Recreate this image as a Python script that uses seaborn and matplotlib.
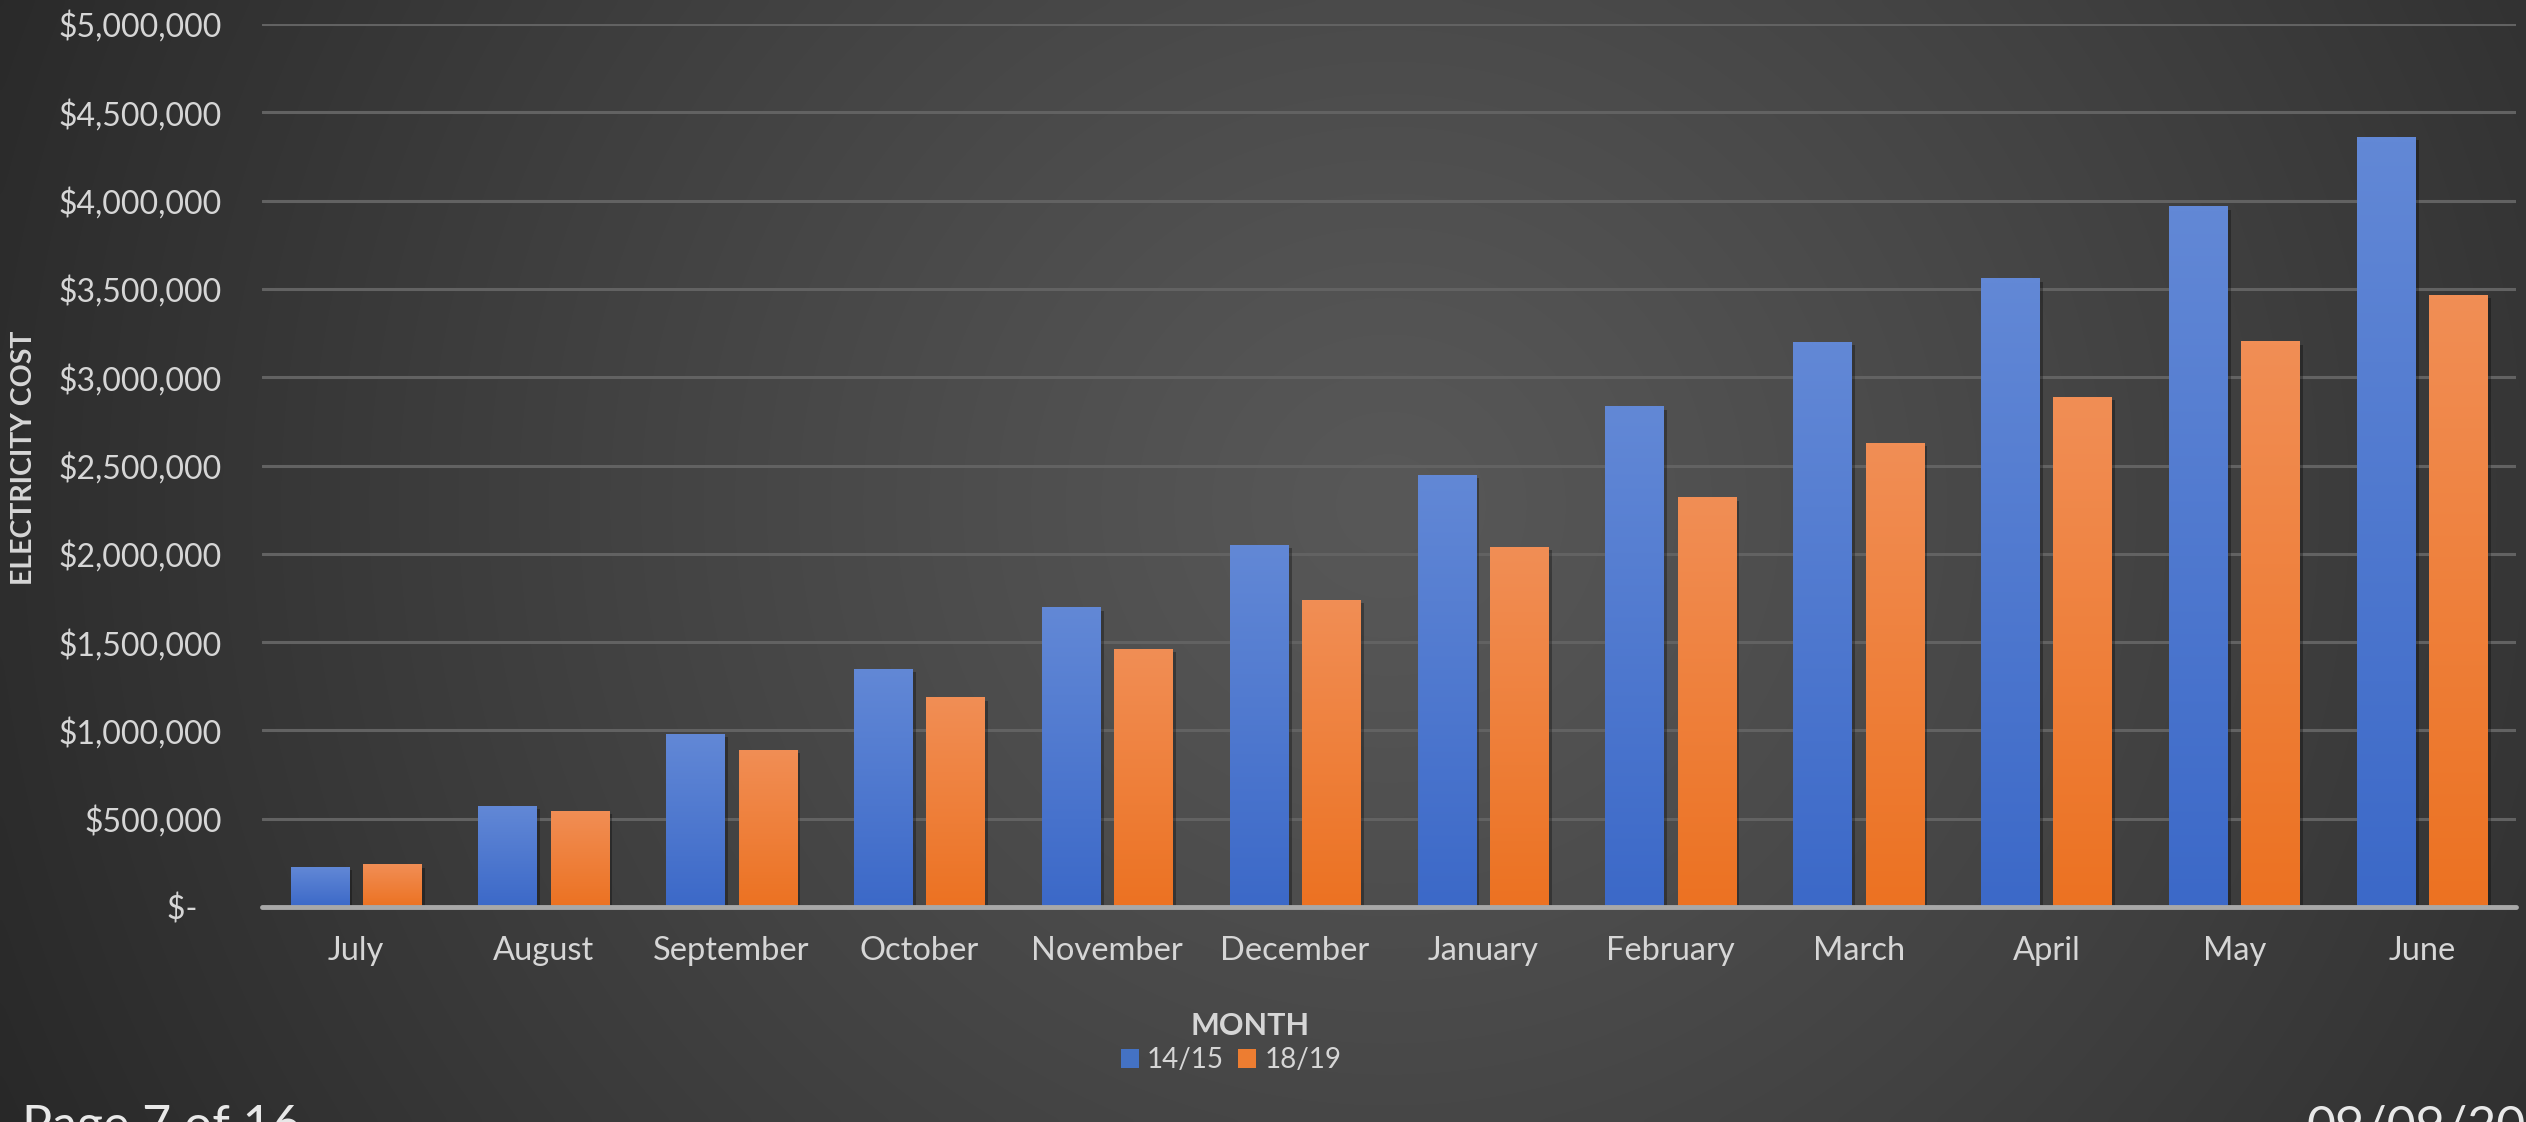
import numpy as np
import pandas as pd
import matplotlib
matplotlib.use("Agg")
import matplotlib.pyplot as plt
import seaborn as sns
from matplotlib.patches import Patch
from matplotlib import patheffects as pe

# ---- data -------------------------------------------------------------
months = ["July", "August", "September", "October", "November", "December",
          "January", "February", "March", "April", "May", "June"]
cost_1415 = [228000, 574000, 981000, 1349000, 1698000, 2051000,
             2449000, 2835000, 3202000, 3561000, 3969000, 4362000]
cost_1819 = [242000, 545000, 891000, 1188000, 1462000, 1740000,
             2041000, 2320000, 2628000, 2890000, 3203000, 3467000]
series_labels = ["14/15", "18/19"]
y_ticks = [0, 500000, 1000000, 1500000, 2000000, 2500000,
           3000000, 3500000, 4000000, 4500000, 5000000]

# ---- style ------------------------------------------------------------
W, H, DPI = 2526, 1122, 100
sns.set_theme(style="dark")
plt.rcParams["font.family"] = ["Lato", "DejaVu Sans"]
TXT = "#d6d6d6"
BLUE_TOP, BLUE_BOT = np.array([0x62, 0x88, 0xd6]), np.array([0x3c, 0x69, 0xc8])
ORNG_TOP, ORNG_BOT = np.array([0xf1, 0x8e, 0x55]), np.array([0xec, 0x72, 0x22])

fig = plt.figure(figsize=(W / DPI, H / DPI), dpi=DPI)
fig.patch.set_facecolor("#2a2a2a")

# radial background gradient, wide and tall so the centre column stays light
bg = fig.add_axes([0, 0, 1, 1], zorder=0)
gy, gx = np.mgrid[0:1:200j, 0:1:400j]
r = np.sqrt(((gx - 0.55) / 0.62) ** 2 + ((gy - 0.45) / 1.35) ** 2)
t = np.clip(r, 0, 1) ** 1.15
c_in, c_out = 0x58 / 255, 0x27 / 255
val = c_in + (c_out - c_in) * t
bg.imshow(np.dstack([val, val, val]), extent=[0, 1, 0, 1], origin="upper",
          aspect="auto", interpolation="bicubic")
bg.set_axis_off()

# ---- chart ------------------------------------------------------------
ax = fig.add_axes([262 / W, 1 - 907 / H, (2516 - 262) / W, (907 - 24) / H], zorder=1)
ax.set_facecolor("none")

df = pd.DataFrame({
    "Month": months * 2,
    "Cost": cost_1415 + cost_1819,
    "Year": [series_labels[0]] * len(months) + [series_labels[1]] * len(months),
})
sns.barplot(data=df, x="Month", y="Cost", hue="Year", order=months,
            hue_order=series_labels, palette=["#4472c4", "#ed7d31"],
            width=0.77, gap=0.195, saturation=1, errorbar=None,
            legend=False, ax=ax, zorder=3)

# vertical gradient fill and soft shadow on every bar
shadow = [pe.SimplePatchShadow(offset=(2.5, -2.5), shadow_rgbFace="black", alpha=0.3),
          pe.Normal()]
for cont, (top, bot) in zip(ax.containers, [(BLUE_TOP, BLUE_BOT), (ORNG_TOP, ORNG_BOT)]):
    for bar in cont:
        bar.set_path_effects(shadow)
        bar.set_edgecolor("none")
        x0, y0, w, h = bar.get_x(), bar.get_y(), bar.get_width(), bar.get_height()
        s = np.linspace(0, 1, 64).reshape(-1, 1, 1)
        img = (top + (bot - top) * s) / 255.0
        img = np.repeat(img, 2, axis=1)
        im = ax.imshow(img, extent=[x0, x0 + w, y0, y0 + h], origin="upper",
                       aspect="auto", interpolation="bilinear", zorder=3.5)
        im.set_clip_path(bar)

ax.set_xlim(-0.5, len(months) - 0.5)
ax.set_ylim(0, y_ticks[-1])
ax.set_yticks(y_ticks)
ax.set_yticklabels([f"${v:,.0f}" if v else "$-   " for v in y_ticks])
ax.yaxis.grid(True, color="#626262", linewidth=2.2)
ax.xaxis.grid(False)
ax.set_axisbelow(True)
ax.axhline(0, color="#a8a8a8", linewidth=3.5, zorder=4, clip_on=False)
for sp in ax.spines.values():
    sp.set_visible(False)
ax.tick_params(axis="y", length=0, pad=29, labelsize=23, labelcolor=TXT)
ax.tick_params(axis="x", length=0, pad=21, labelsize=23.5, labelcolor=TXT)
ax.set_xlabel("")
ax.set_ylabel("")

# axis titles
fig.text(24 / W, 1 - 458 / H, "ELECTRICITY COST", rotation=90, ha="center",
         va="center", fontsize=20.5, fontweight="bold", color=TXT)
fig.text(1250 / W, 1 - 1026 / H, "MONTH", ha="center", va="center",
         fontsize=22, fontweight="bold", color=TXT)

# legend
handles = [Patch(facecolor="#4472c4", edgecolor="none", label=series_labels[0]),
           Patch(facecolor="#ed7d31", edgecolor="none", label=series_labels[1])]
fig.legend(handles=handles, loc="center", bbox_to_anchor=(1231 / W, 1 - 1060 / H),
           ncol=2, frameon=False, fontsize=20, labelcolor=TXT,
           handlelength=0.65, handleheight=0.65, handletextpad=0.3,
           columnspacing=0.5)

# page footer
fig.text(22 / W, 1 - 1141 / H, "Page 7 of 16", ha="left", va="baseline",
         fontsize=36, color="#e8e8e8")
fig.text(2307 / W, 1 - 1141 / H, "09/09/2019", ha="left", va="baseline",
         fontsize=36, color="#e8e8e8")

fig.savefig("out.png", dpi=DPI, facecolor=fig.get_facecolor())
